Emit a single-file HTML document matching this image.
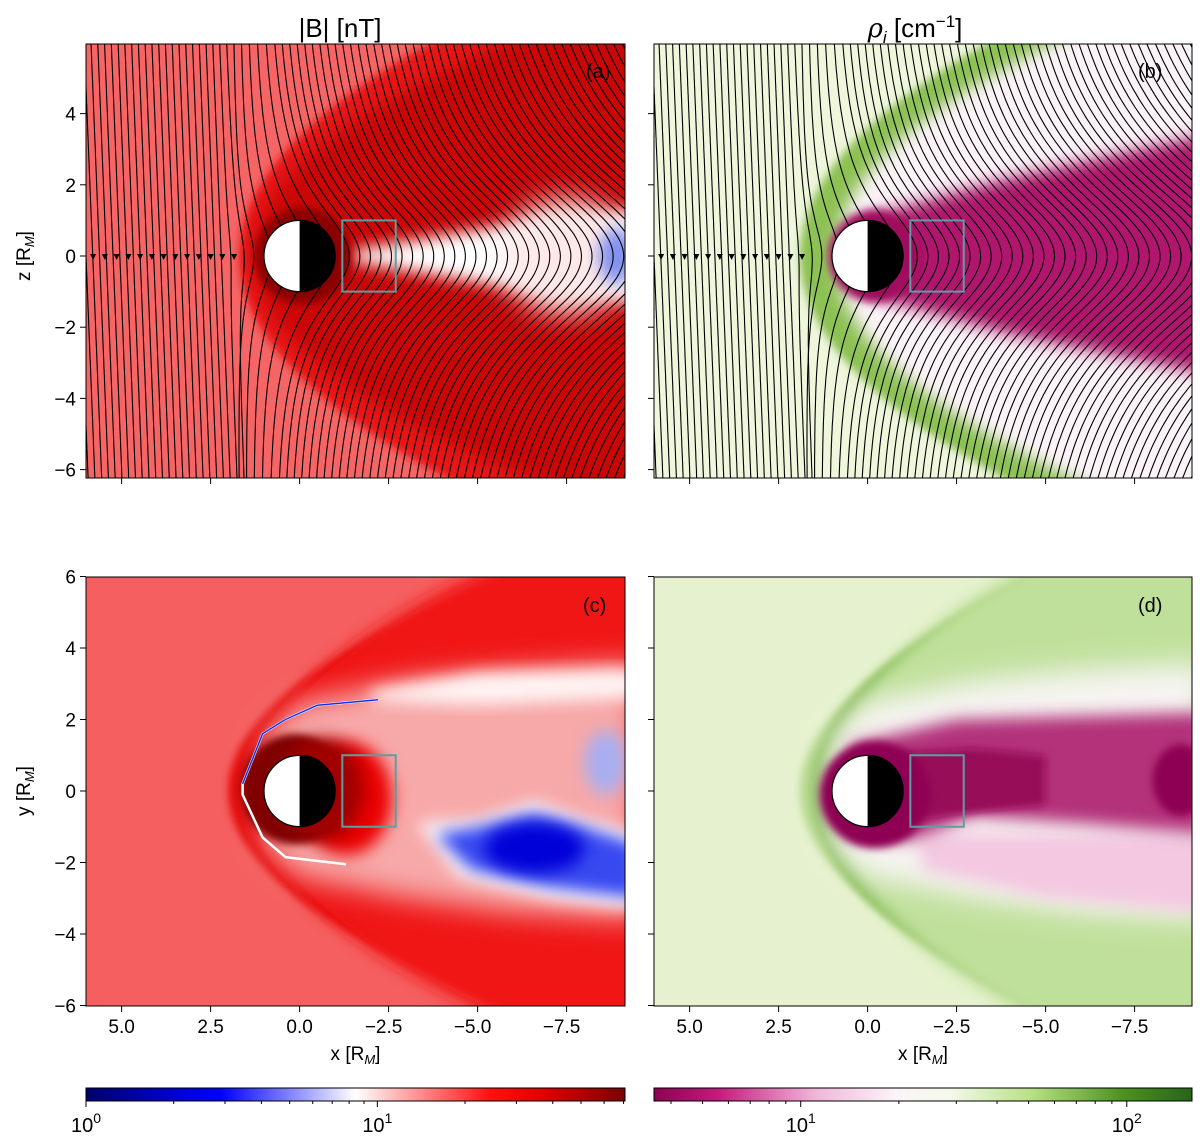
<!DOCTYPE html>
<html><head><meta charset="utf-8"><style>
html,body{margin:0;padding:0;background:#fff;}
svg{display:block;font-family:"Liberation Sans","DejaVu Sans",sans-serif;}
</style></head><body>
<svg id="fig" width="1200" height="1146" viewBox="0 0 1200 1146" xmlns="http://www.w3.org/2000/svg">
<defs>
<filter id="b2" x="-20%" y="-20%" width="140%" height="140%"><feGaussianBlur stdDeviation="2"/></filter>
<filter id="b4" x="-20%" y="-20%" width="140%" height="140%"><feGaussianBlur stdDeviation="4"/></filter>
<filter id="b8" x="-30%" y="-30%" width="160%" height="160%"><feGaussianBlur stdDeviation="8"/></filter>
<filter id="b14" x="-40%" y="-40%" width="180%" height="180%"><feGaussianBlur stdDeviation="14"/></filter>
<clipPath id="cA"><rect x="86" y="44" width="539" height="434"/></clipPath>
<clipPath id="cB"><rect x="654" y="44" width="538" height="434"/></clipPath>
<clipPath id="cC"><rect x="86" y="577" width="539" height="429"/></clipPath>
<clipPath id="cD"><rect x="654" y="577" width="538" height="429"/></clipPath>
<linearGradient id="gB" x1="0" x2="1" y1="0" y2="0">
<stop offset="0" stop-color="#00006a"/><stop offset="0.15" stop-color="#0000c8"/><stop offset="0.25" stop-color="#0000ff"/>
<stop offset="0.5" stop-color="#ffffff"/><stop offset="0.75" stop-color="#ff1010"/><stop offset="0.85" stop-color="#e00000"/><stop offset="1" stop-color="#7a0000"/>
</linearGradient>
<linearGradient id="gP" x1="0" x2="1" y1="0" y2="0">
<stop offset="0" stop-color="#8e0152"/><stop offset="0.12" stop-color="#c51b7d"/><stop offset="0.3" stop-color="#f1b6da"/>
<stop offset="0.45" stop-color="#fbf4f8"/><stop offset="0.55" stop-color="#f4f9ea"/><stop offset="0.7" stop-color="#b8e186"/><stop offset="0.87" stop-color="#4d9221"/><stop offset="1" stop-color="#276419"/>
</linearGradient>
</defs>

<text x="340" y="37" font-size="26" text-anchor="middle">|B| [nT]</text>
<text x="915" y="37" font-size="26" text-anchor="middle"><tspan font-family="DejaVu Serif" font-style="italic">ρ</tspan><tspan font-size="17" dy="6" font-style="italic">i</tspan><tspan dy="-6"> [cm</tspan><tspan font-size="17" dy="-10">−1</tspan><tspan dy="10">]</tspan></text>

<g id="pA" clip-path="url(#cA)"></g>
<g id="pB" clip-path="url(#cB)"></g>
<g id="pC" clip-path="url(#cC)"></g>
<g id="pD" clip-path="url(#cD)"></g>
<g id="axes"></g>

<rect x="86" y="1088" width="539" height="13" fill="url(#gB)" stroke="#000" stroke-width="1"/>
<rect x="654" y="1088" width="538" height="13" fill="url(#gP)" stroke="#000" stroke-width="1"/>
<g id="cbt"></g>
</svg>
<script>
const NS="http://www.w3.org/2000/svg";
const xTicks=[5.0,2.5,0.0,-2.5,-5.0,-7.5];
const xTickLabels=["5.0","2.5","0.0","−2.5","−5.0","−7.5"];
const zTicks=[4,2,0,-2,-4,-6];
const yTicks=[6,4,2,0,-2,-4,-6];
const cbLeftDecades=[0,1];
const cbRightDecades=[1,2];

function mk(tag,attrs,parent,name){const e=document.createElementNS(NS,tag);for(const k in attrs)e.setAttribute(k,attrs[k]);


parent.appendChild(e);return e;}

const S=35.6;
function P(ox,oy,sy){return {X:x=>ox+(6-x)*S,Y:z=>oy-z*sy};}
const PA=P(86,256,35.6),PB=P(654,256,35.6),PC=P(86,791,35.75),PD=P(654,791,35.75);

function shockPath(p,xn,c,zmax){let d="";for(let z=-zmax;z<=zmax+0.01;z+=0.25){const x=xn-c*z*z;d+=(d?"L":"M")+p.X(x).toFixed(1)+","+p.Y(z).toFixed(1);}return d;}
function shockRegion(p,xn,c){return shockPath(p,xn,c,9)+"L"+p.X(-20)+","+p.Y(-9)+"L"+p.X(-20)+","+p.Y(9)+"Z";}
function ell(g,p,cx,cz,rx,rz,fill,f,name,op){mk('ellipse',{cx:p.X(cx),cy:p.Y(cz),rx:rx*S,ry:rz*S,fill:fill,filter:f?`url(#${f})`:"",opacity:op||1},g,name);}
function pts2d(p,pts){let d="";pts.forEach((q,i)=>{d+=(i?"L":"M")+p.X(q[0]).toFixed(1)+","+p.Y(q[1]).toFixed(1);});return d;}
function poly(g,p,pts,fill,f,name,op){mk('path',{d:pts2d(p,pts)+"Z",fill:fill,filter:f?`url(#${f})`:"",opacity:op||1},g,name);}
const envelope=[[1.3,0],[1.0,1.6],[0,2.5],[-3,3.1],[-6,3.4],[-9.5,3.6],[-9.5,-3.6],[-6,-3.4],[-3,-3.0],[0,-2.4],[1.0,-1.6]];

function streamlines(g,p){
  const gg=mk('g',{fill:"none",stroke:"#000","stroke-width":"1.1"},g,'field-lines');
  for(let x0=7;x0>=-9.5;x0-=0.19){
    let D=0;
    if(x0<2.4&&x0>1)D=2.2*Math.pow((2.4-x0)/1.4,1.5);else if(x0<=1)D=2.2+(1-x0)*0.56;
    const w=1.2+0.35*D;
    let d="";
    for(let z=6.4;z>=-6.5;z-=0.1){const x=x0-D/(1+(z/w)*(z/w))-0.04*(6-z)*(x0>2?1:0.3);
      d+=(d?"L":"M")+p.X(x).toFixed(1)+","+p.Y(z).toFixed(1);}
    mk('path',{d:d},gg,'field-line');
  }
  for(let x=5.8;x>1.6;x-=0.33){const cx=p.X(x),cy=p.Y(0);
    mk('path',{d:`M${cx-3},${cy-2}L${cx+3},${cy-2}L${cx},${cy+4}Z`,fill:"#000"},g,'field-arrow');}
}
function planet(g,p){const cx=p.X(0),cy=p.Y(0),r=S;
  mk('circle',{cx:cx,cy:cy,r:r,fill:"#fff"},g,'planet-day-side');
  mk('path',{d:`M${cx},${cy-r}A${r},${r} 0 0 1 ${cx},${cy+r}Z`,fill:"#000"},g,'planet-night-side');
  mk('circle',{cx:cx,cy:cy,r:r,fill:"none",stroke:"#000","stroke-width":1.2},g,'planet-outline');}
function box(g,p){mk('rect',{x:p.X(-1.2),y:p.Y(1),width:1.5*S,height:(p.Y(-1)-p.Y(1)),fill:"none",stroke:"#5f9ea0","stroke-width":2},g,'region-box');}

// Panel A
(function(){const g=document.getElementById('pA'),p=PA;
 mk('rect',{x:86,y:44,width:539,height:434,fill:"#f56565"},g,'background');
 mk('path',{d:shockRegion(p,1.7,0.15),fill:"#e81212",filter:"url(#b4)"},g,'sheath');
 mk('path',{d:shockRegion(p,1.3,0.2),fill:"#c00000",filter:"url(#b8)",opacity:0.7},g,'inner-sheath');
 poly(g,p,[[-1.5,0.15],[-6,0.9],[-9.5,1.3],[-9.5,-1.3],[-6,-0.9],[-1.5,-0.15]],"#ffffff","b8","tail-white");
 ell(g,p,-7.5,0,1.8,1.6,"#ffe8e8","b14","tail-white-far");
 ell(g,p,-8.9,0,0.5,0.8,"#8090f0","b8","blue-spot");
 ell(g,p,-0.1,0,1.35,1.35,"#8a0000","b4","planet-ring");
 streamlines(g,p);planet(g,p);box(g,p);
 mk('text',{x:586,y:78,"font-size":20},g,'label-a').textContent="(a)";})();
// Panel B
(function(){const g=document.getElementById('pB'),p=PB;
 mk('rect',{x:654,y:44,width:538,height:434,fill:"#eef6dc"},g,'background');
 mk('path',{d:shockRegion(p,1.9,0.147),fill:"#8cc152",filter:"url(#b4)"},g,'green-band');
 mk('path',{d:shockRegion(p,0.9,0.17),fill:"#fbf3f7",filter:"url(#b8)"},g,'sheath-white');
 poly(g,p,[[0,1.1],[-4,2.2],[-9.5,3.4],[-9.5,-3.3],[-4,-2.2],[0,-1.1]],"#b0186e","b8","tail-magenta");
 ell(g,p,-0.2,0,1.3,1.3,"#a0105e","b4","planet-ring");
 streamlines(g,p);planet(g,p);box(g,p);
 mk('text',{x:1138,y:78,"font-size":20},g,'label-b').textContent="(b)";})();
// Panel C
(function(){const g=document.getElementById('pC'),p=PC;
 mk('rect',{x:86,y:577,width:539,height:429,fill:"#f55f5f"},g,'background');
 mk('path',{d:shockRegion(p,2.0,0.22),fill:"#e40000",filter:"url(#b4)"},g,'shock-band');
 mk('path',{d:shockRegion(p,1.3,0.17),fill:"#f01818",filter:"url(#b8)"},g,'sheath-inner');
 poly(g,p,envelope,"#f7a8a8","b14","tail-light");
 poly(g,p,[[-2,2.8],[-5,3.3],[-9.5,3.4],[-9.5,2.6],[-5,2.4],[-2,2.5]],"#fff4f4","b8","upper-white-streak");
 ell(g,p,-1.3,-0.2,1.3,1.6,"#ea0000","b8","box-red");
 poly(g,p,[[-3.3,-0.9],[-5,-0.8],[-6.6,-0.3],[-8,-0.8],[-9.5,-1.2],[-9.5,-3.3],[-7,-3.0],[-4.5,-2.4]],"#ffffff","b8","blue-halo");
 poly(g,p,[[-3.8,-1.2],[-5,-1.0],[-6.6,-0.6],[-8,-1.0],[-9.5,-1.5],[-9.5,-3.0],[-7,-2.7],[-4.8,-2.2]],"#3848f0","b8","blue-region");
 ell(g,p,-6.6,-1.6,1.4,0.7,"#0000d8","b8","blue-core");
 ell(g,p,-8.6,0.8,0.6,0.9,"#a8aef0","b8","blue-patch");
 ell(g,p,0.15,0.05,1.5,1.55,"#800000","b4","magnetopause-region");
 ell(g,p,-0.6,0.05,1.2,1.45,"#a00000","b8","magnetopause-tail");
 mk('path',{d:pts2d(p,[[-2.2,2.55],[-0.5,2.4],[0.4,2.0],[1.04,1.6],[1.6,0.2],[1.6,-0.1],[1.04,-1.3],[0.4,-1.85],[-1.3,-2.05]]),fill:"none",stroke:"#ffffff","stroke-width":2.5,"stroke-linejoin":"round"},g,'magnetopause-white');
 mk('path',{d:pts2d(p,[[-2.2,2.55],[-0.5,2.4],[0.4,2.0],[1.04,1.6],[1.6,0.2]]),fill:"none",stroke:"#1030f0","stroke-width":1.5,"stroke-linejoin":"round"},g,'magnetopause-blue');
 planet(g,p);box(g,p);
 mk('text',{x:583,y:612,"font-size":20},g,'label-c').textContent="(c)";})();
// Panel D
(function(){const g=document.getElementById('pD'),p=PD;
 mk('rect',{x:654,y:577,width:538,height:429,fill:"#e6f2cf"},g,'background');
 mk('path',{d:shockRegion(p,1.9,0.2),fill:"#b2d886",filter:"url(#b4)"},g,'green-outer');
 mk('path',{d:shockRegion(p,1.6,0.17),fill:"#7ab34a",filter:"url(#b4)"},g,'green-band');
 mk('path',{d:shockRegion(p,1.1,0.14),fill:"#bfe09a",filter:"url(#b8)"},g,'green-inner');
 poly(g,p,envelope,"#f6f4f2","b14","sheath-white");
 poly(g,p,[[-1.5,-1.2],[-6,-1.2],[-9.5,-1.2],[-9.5,-3.4],[-5,-3.0],[-1.5,-2.2]],"#f3c8e0","b8","pink-region");
 poly(g,p,[[0.5,1.3],[-2.5,2.0],[-6,2.1],[-9.5,2.2],[-9.5,-1.2],[-6,-0.9],[-3,-0.7],[-1.2,-1.4],[0.5,-1.3]],"#b3307a","b8","tail-magenta");
 poly(g,p,[[0.3,1],[-3,1.2],[-5,1],[-5,-0.4],[-3,-0.6],[0.3,-1]],"#970a58","b4","tail-magenta-core");
 ell(g,p,-8.8,0.3,0.8,1.0,"#8e0152","b4","tail-magenta-far");
 ell(g,p,-0.2,-0.1,1.55,1.5,"#8e0152","b4","planet-ring");
 planet(g,p);box(g,p);
 mk('text',{x:1138,y:612,"font-size":20},g,'label-d').textContent="(d)";})();

// Axes
(function(){const g=document.getElementById('axes');
 const frames=[[86,44,539,434,PA,zTicks,false],[654,44,538,434,PB,zTicks,false],[86,577,539,429,PC,yTicks,true],[654,577,538,429,PD,yTicks,true]];
 frames.forEach((f,i)=>{const [x,y,w,h,p,yt,bottom]=f;
  mk('rect',{x:x,y:y,width:w,height:h,fill:"none",stroke:"#000","stroke-width":1},g,'axes-frame');
  xTicks.forEach((t,j)=>{const X=p.X(t);mk('line',{x1:X,x2:X,y1:y+h,y2:y+h+6,stroke:"#000"},g,'x-tick');
   if(bottom){mk('text',{x:X-(t<0?5:0),y:y+h+27,"font-size":19,"text-anchor":"middle"},g,'x-tick-label').textContent=xTickLabels[j];}});
  if(i%2==0){yt.forEach(t=>{const Y=p.Y(t);if(Y<y-1||Y>y+h+1)return;
   mk('line',{x1:x-6,x2:x,y1:Y,y2:Y,stroke:"#000"},g,'y-tick');
   mk('text',{x:x-10,y:Y+7,"font-size":19,"text-anchor":"end"},g,'y-tick-label').textContent=(t<0?"−":"")+Math.abs(t);});}
  else{yt.forEach(t=>{const Y=p.Y(t);if(Y<y-1||Y>y+h+1)return;mk('line',{x1:x-6,x2:x,y1:Y,y2:Y,stroke:"#000"},g,'y-tick');});}
  if(bottom){const t=mk('text',{x:x+w/2,y:1060,"font-size":19,"text-anchor":"middle"},g,'x-axis-title');t.innerHTML='x [R<tspan font-size="13" dy="4" font-style="italic">M</tspan><tspan dy="-4">]</tspan>';}
 });
 const t1=mk('text',{x:0,y:0,"font-size":19,"text-anchor":"middle",transform:"translate(30,256) rotate(-90)"},g,'z-axis-title');t1.innerHTML='z [R<tspan font-size="13" dy="4" font-style="italic">M</tspan><tspan dy="-4">]</tspan>';
 const t2=mk('text',{x:0,y:0,"font-size":19,"text-anchor":"middle",transform:"translate(30,791) rotate(-90)"},g,'y-axis-title');t2.innerHTML='y [R<tspan font-size="13" dy="4" font-style="italic">M</tspan><tspan dy="-4">]</tspan>';
})();
// Colorbar ticks
(function(){const g=document.getElementById('cbt');
 function cb(x0,w,lmin,lmax,dec){const L=v=>x0+(Math.log10(v)-lmin)/(lmax-lmin)*w;
  for(let d=Math.floor(lmin);d<=Math.ceil(lmax);d++){for(let m=1;m<10;m++){const v=m*Math.pow(10,d);const lv=Math.log10(v);if(lv<lmin-1e-6||lv>lmax+1e-6)continue;
    const X=L(v);mk('line',{x1:X,x2:X,y1:1101,y2:1101+(m==1?6:3),stroke:"#000"},g,'colorbar-tick');}}
  dec.forEach(d=>{const X=L(Math.pow(10,d));const t=mk('text',{x:X,y:1132,"font-size":20,"text-anchor":"middle"},g,'colorbar-tick-label');t.innerHTML='10<tspan font-size="14" dy="-9">'+d+'</tspan>';});}
 cb(86,539,0,1.85,cbLeftDecades);
 cb(654,538,0.55,2.2,cbRightDecades);
})();
</script>
</body></html>
